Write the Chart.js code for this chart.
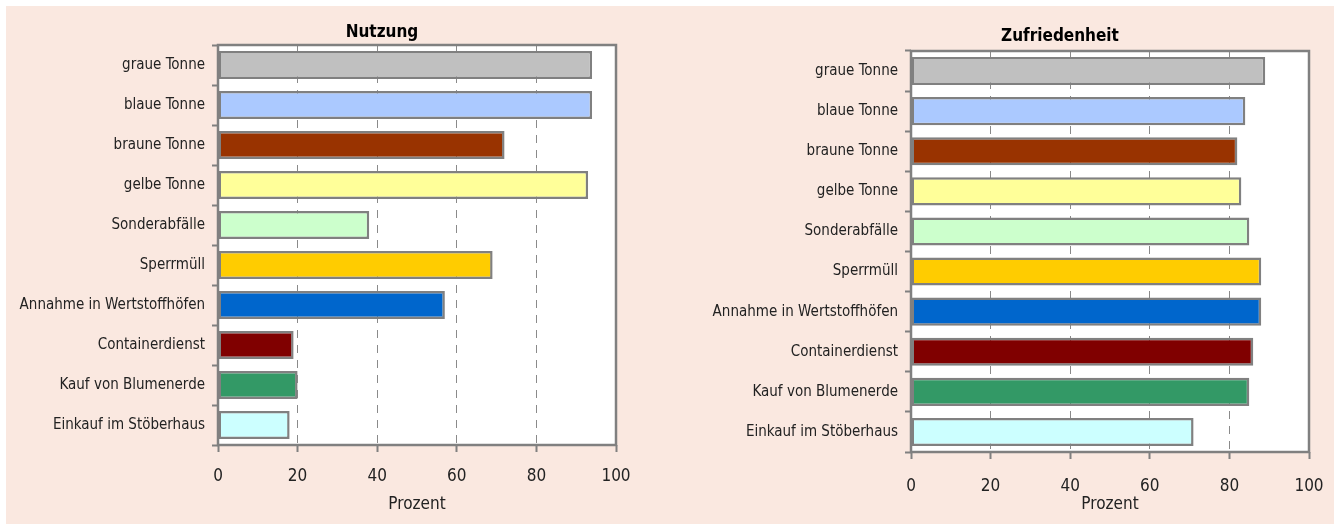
<!DOCTYPE html>
<html lang="de">
<head>
<meta charset="utf-8">
<title>Nutzung und Zufriedenheit</title>
<script src="https://cdn.jsdelivr.net/npm/chart.js@4/dist/chart.umd.min.js"></script>
<style>
  html, body { margin: 0; padding: 0; background: #fff; overflow: hidden; }
  body { width: 1334px; height: 526px; position: relative; }
  #panel { position: absolute; left: 6px; top: 6px; width: 1328px; height: 518px; background: #fae8e0; }
  .box { position: absolute; top: 0; height: 526px; }
</style>
</head>
<body>
<div id="panel"></div>
<div class="box" style="left:0; width:754px"><canvas id="nutzung"></canvas></div>
<div class="box" style="left:667px; width:786px"><canvas id="zufriedenheit"></canvas></div>
<script>
'use strict';

const categories = [
  'graue Tonne', 'blaue Tonne', 'braune Tonne', 'gelbe Tonne', 'Sonderabfälle',
  'Sperrmüll', 'Annahme in Wertstoffhöfen', 'Containerdienst', 'Kauf von Blumenerde',
  'Einkauf im Stöberhaus',
];
const nutzungValues       = [94, 94, 72, 93, 38, 69, 57, 19, 20, 18];
const zufriedenheitValues = [89, 84, 82, 83, 85, 88, 88, 86, 85, 71];
const xTicks = [0, 20, 40, 60, 80, 100];
const barColors = [
  '#c0c0c0', '#abc9ff', '#993300', '#ffff99', '#ccffcc',
  '#ffcc00', '#0066cc', '#800000', '#339966', '#ccffff',
];

const FONT = "'DejaVu Sans Condensed', 'Liberation Sans Narrow', sans-serif";
const GREY = '#808080';

// white plot background + grey frame round the chart area
const plotFrame = {
  id: 'plotFrame',
  beforeDraw(chart) {
    const { ctx, chartArea: a } = chart;
    ctx.save();
    ctx.fillStyle = '#fff';
    ctx.fillRect(a.left, a.top, a.right - a.left, a.bottom - a.top);
    ctx.restore();
  },
  afterDraw(chart) {
    const { ctx, chartArea: a } = chart;
    ctx.save();
    ctx.strokeStyle = GREY;
    ctx.lineWidth = 2.5;
    ctx.strokeRect(a.left, a.top, a.right - a.left, a.bottom - a.top);
    ctx.restore();
  },
};

function makeChart(canvasId, title, values, g) {
  const canvas = document.getElementById(canvasId);
  return new Chart(canvas, {
    type: 'bar',
    data: {
      labels: categories,
      datasets: [{
        data: values,
        backgroundColor: barColors,
        borderColor: GREY,
        borderWidth: 2.5,
        borderSkipped: false,
        barPercentage: 0.7,
        categoryPercentage: 1.0,
      }],
    },
    plugins: [plotFrame],
    options: {
      indexAxis: 'y',
      responsive: true,
      maintainAspectRatio: false,
      animation: false,
      layout: { padding: { left: g.padLeft, right: 0, top: 0, bottom: 2 } },
      plugins: {
        legend: { display: false },
        tooltip: { enabled: false },
        title: {
          display: true,
          text: title,
          color: '#000',
          font: { family: FONT, size: 17, weight: 'bold', lineHeight: 1.2 },
          padding: { top: g.titleTop, bottom: g.titleBottom },
        },
      },
      scales: {
        x: {
          min: 0,
          max: 100,
          afterBuildTicks(scale) { scale.ticks = xTicks.map(v => ({ value: v })); },
          grid: {
            color: c => (c.tick && (c.tick.value === 0 || c.tick.value === 100)) ? 'rgba(0,0,0,0)' : '#8a8a8a',
            lineWidth: 1,
            drawTicks: true,
            tickLength: 7,
            tickWidth: 2,
            tickColor: GREY,
            tickBorderDash: [],
          },
          border: { display: false, dash: [8, 7] },
          ticks: {
            padding: g.tickPad,
            color: '#222',
            font: { family: FONT, size: 17, lineHeight: 1.2 },
          },
          title: {
            display: true,
            text: 'Prozent',
            color: '#222',
            font: { family: FONT, size: 17, lineHeight: 1.2 },
            padding: { top: g.axisTitleTop, bottom: 9.3 },
          },
        },
        y: {
          afterFit(scale) { scale.width = g.yWidth; },
          grid: {
            drawOnChartArea: false,
            drawTicks: true,
            tickLength: 6,
            tickWidth: 2,
            tickColor: GREY,
            color: GREY,
          },
          border: { display: false },
          ticks: {
            padding: 7,
            color: '#222',
            font: { family: FONT, size: 15 },
          },
        },
        // empty box on the right, only keeps the title where it sits in the original
        spacer: {
          type: 'category',
          position: 'right',
          grid: { display: false },
          ticks: { display: false },
          border: { display: false },
          afterFit(scale) { scale.width = g.spacer; },
        },
      },
    },
  });
}

makeChart('nutzung', 'Nutzung', nutzungValues,
  { padLeft: 10, yWidth: 208, spacer: 138, titleTop: 22.3, titleBottom: 2.3, tickPad: 14, axisTitleTop: -6.1 });
makeChart('zufriedenheit', 'Zufriedenheit', zufriedenheitValues,
  { padLeft: 0, yWidth: 244, spacer: 144, titleTop: 26.3, titleBottom: 4.3, tickPad: 17, axisTitleTop: -19.1 });
</script>
</body>
</html>
